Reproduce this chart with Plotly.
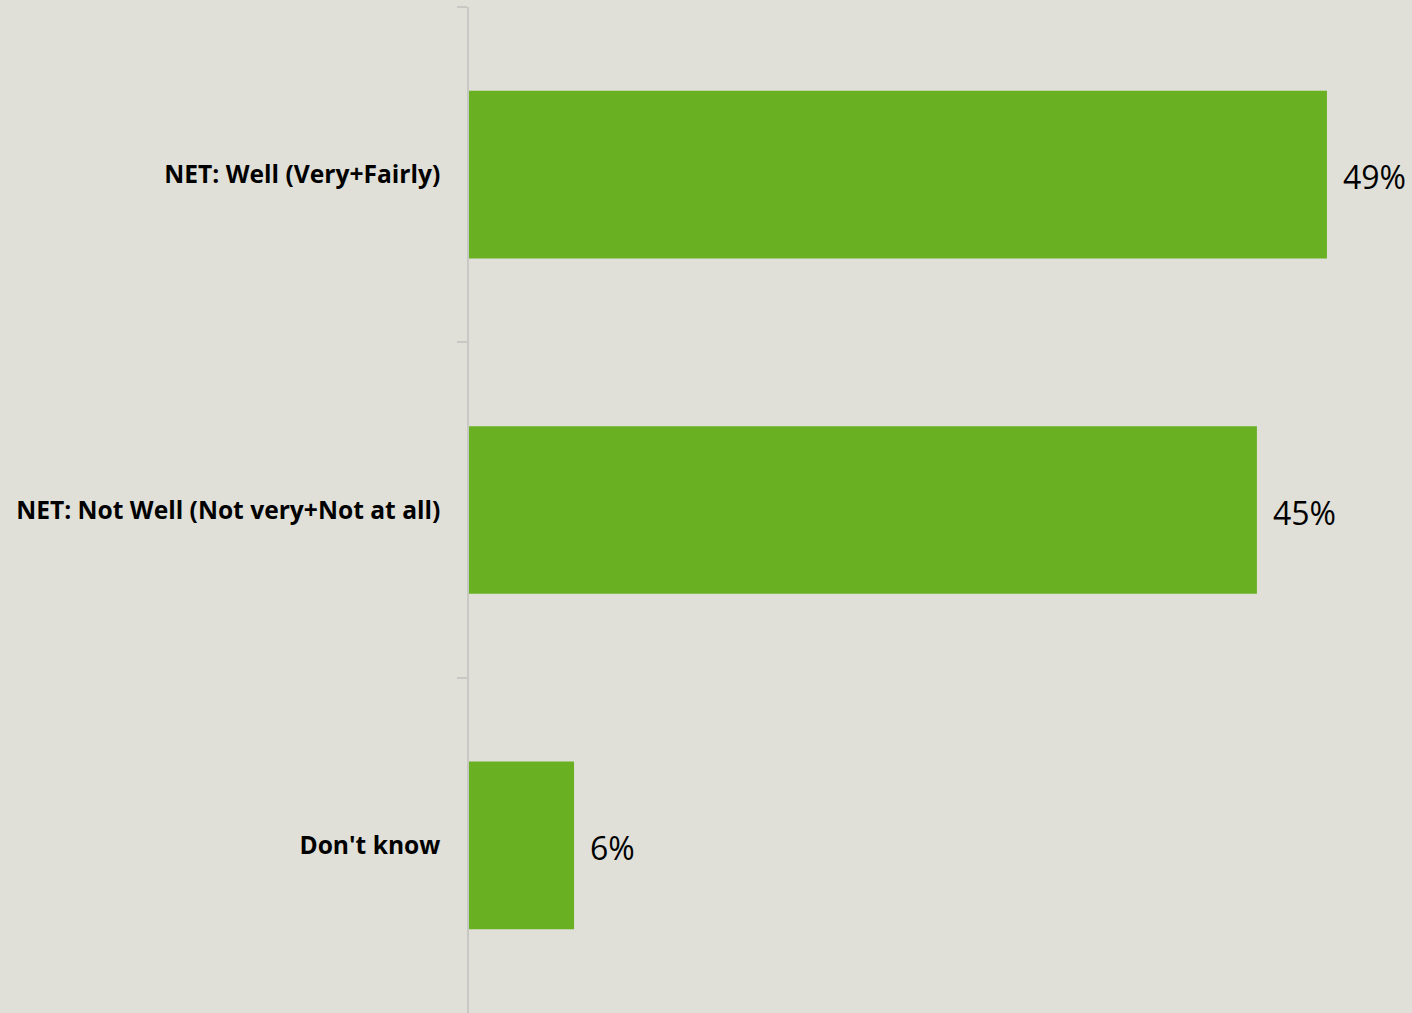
import plotly.graph_objects as go

categories = ["NET: Well (Very+Fairly)", "NET: Not Well (Not very+Not at all)", "Don't know"]
values = [49, 45, 6]
value_labels = ["49%", "45%", "6%"]

BG = "#E0E0D9"
BAR = "#6AB023"

fig = go.Figure()
fig.add_trace(go.Bar(
    x=values, y=categories, orientation="h",
    marker=dict(color=BAR, line=dict(width=0)),
    hoverinfo="skip",
))

for c, v, t in zip(categories, values, value_labels):
    fig.add_annotation(x=v, y=c, text=t, showarrow=False, xanchor="left",
                       yanchor="middle", xshift=14, yshift=-2,
                       font=dict(family="Open Sans, sans-serif", size=32, color="#000000"))

fig.update_layout(
    width=1412, height=1013,
    margin=dict(l=469, r=0, t=7, b=0),
    paper_bgcolor=BG, plot_bgcolor=BG,
    bargap=0.5,
    showlegend=False,
    xaxis=dict(range=[0, 942.5 / 17.5], visible=False, showgrid=False, zeroline=False, fixedrange=True),
    yaxis=dict(
        autorange="reversed", type="category",
        showline=True, linecolor="#C8C8C4", linewidth=1.5,
        ticks="outside", ticklen=10, tickcolor="#C8C8C4", tickwidth=1.5,
        tickson="boundaries",
        ticklabelstandoff=22,
        tickfont=dict(family="Open Sans, sans-serif", size=24.6, color="#000000", weight="bold"),
        showgrid=False, zeroline=False, fixedrange=True,
    ),
)

fig.write_html("out.html", config={"displayModeBar": False},
               post_script="document.body.style.margin='0';document.body.style.background='%s';" % BG)
